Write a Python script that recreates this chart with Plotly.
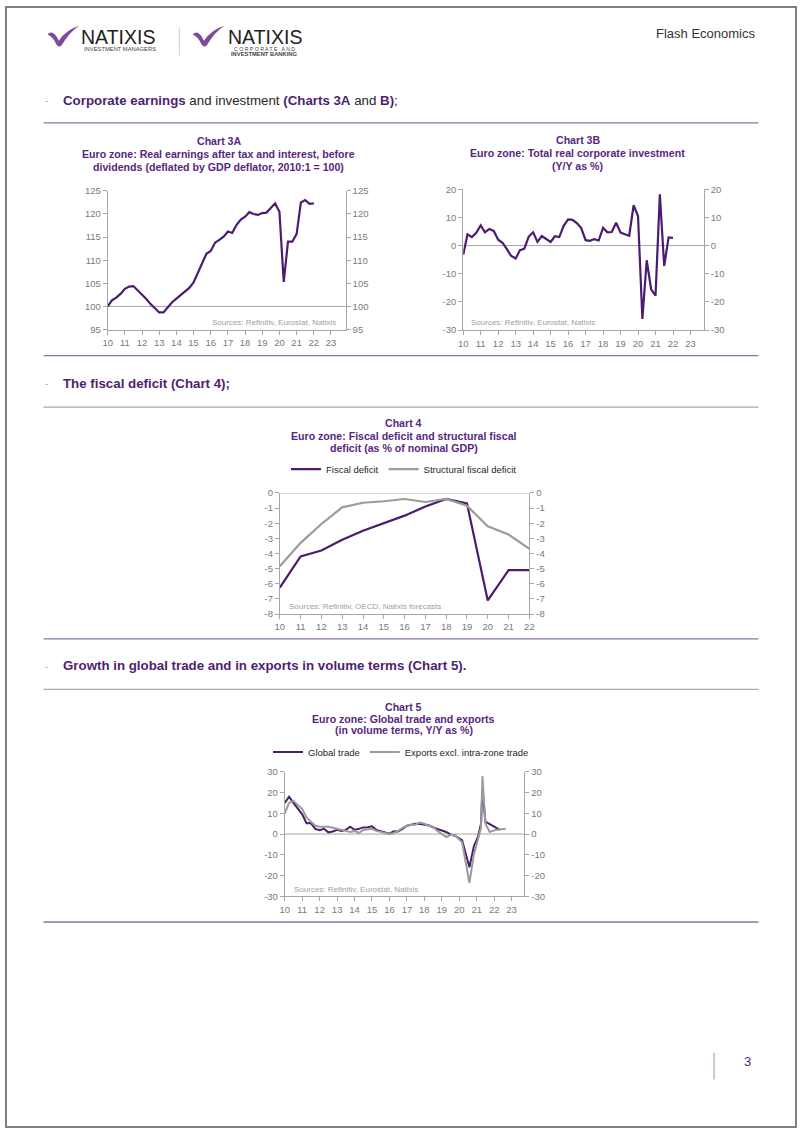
import plotly.graph_objects as go
import pandas as pd

W, H = 802, 1133


def fx(x):
    return x / W


def fy(y):
    return 1 - y / H


FONT = "Liberation Sans, Arial, Helvetica, sans-serif"
PURPLE = "#4b1c6f"
TITLE = "#57277f"
HEAD = "#4e1f72"
GRAYS = "#9b9b9b"
AXIS = "#a6a6a6"
TICKC = "#7a7a7a"
SEP_PURPLE = "#8f72a9"
SEP_GRAY = "#a9a9a9"

# ---------------- data ----------------
year_ticks = [f"{y}-01-01" for y in range(2010, 2024)]
year_labels = ["10", "11", "12", "13", "14", "15", "16", "17", "18", "19", "20", "21", "22", "23"]

# Chart 3A: real earnings, quarterly from 2010Q1 (2010:1 = 100)
earnings = [100.0, 101.3, 101.9, 102.7,
            103.8, 104.3, 104.4, 103.5,
            102.7, 101.6, 100.5, 99.5,
            98.7, 98.7, 99.8, 100.9,
            101.7, 102.4, 103.1, 104.0,
            105.2, 107.3, 109.3, 111.4,
            112.0, 113.8, 114.4, 115.1,
            116.2, 115.9, 117.6, 118.8,
            119.4, 120.4, 120.0, 119.8,
            120.2, 120.3, 121.3, 122.3,
            120.5, 105.3, 114.0, 114.0,
            115.7, 122.5, 123.0, 122.2,
            122.3]

# Chart 3B: real corporate investment, Y/Y %, quarterly from 2010Q1
investment = [-3.3, 4.0, 3.0, 4.5,
              7.2, 4.7, 5.9, 5.2,
              2.1, 1.0, -1.3, -3.7,
              -4.6, -1.6, -1.1, 3.2,
              4.7, 1.3, 3.4, 2.2,
              1.3, 3.3, 3.0, 7.0,
              9.3, 9.1, 8.0, 6.2,
              1.9, 1.7, 2.3, 1.8,
              6.3, 4.7, 4.8, 8.1,
              4.6, 4.0, 3.5, 14.3,
              10.5, -26.0, -5.2, -15.5,
              -17.8, 18.2, -7.2, 2.9,
              2.7]

# Chart 4: fiscal deficits, % of nominal GDP
fiscal_years = [str(y) for y in range(2010, 2023)]
fiscal_deficit = [-6.25, -4.2, -3.8, -3.1, -2.5, -2.0, -1.5, -0.9, -0.4, -0.7, -7.1, -5.1, -5.1]
structural_deficit = [-4.85, -3.3, -2.05, -0.95, -0.65, -0.55, -0.4, -0.6, -0.4, -0.85, -2.2, -2.75, -3.7]

# Chart 5: global trade and exports, Y/Y %
trade_dates = ["2010-01", "2010-04", "2010-07", "2010-10", "2011-01", "2011-04", "2011-07", "2011-10",
               "2012-01", "2012-04", "2012-07", "2012-10", "2013-01", "2013-04", "2013-07", "2013-10",
               "2014-01", "2014-04", "2014-07", "2014-10", "2015-01", "2015-04", "2015-07", "2015-10",
               "2016-01", "2016-04", "2016-07", "2016-10", "2017-01", "2017-04", "2017-07", "2017-10",
               "2018-01", "2018-04", "2018-07", "2018-10", "2019-01", "2019-04", "2019-07", "2019-10",
               "2020-03", "2020-08", "2020-11", "2021-02", "2021-04", "2021-05", "2021-07", "2021-11",
               "2022-05"]
global_trade = [15.0, 18.0, 15.0, 12.5, 9.5, 5.2, 5.3, 2.5,
                1.8, 2.5, 0.8, 1.2, 2.0, 1.5, 2.0, 3.5,
                2.0, 2.5, 3.2, 3.3, 3.7, 2.0, 1.3, 0.8,
                0.2, 1.3, 1.2, 2.5, 4.0, 4.5, 5.0, 4.8,
                4.5, 4.2, 3.2, 2.5, 1.5, 1.0, -0.2, -0.8,
                -3.0, -16.0, -6.0, -1.0, 5.0, 22.0, 6.0, 4.5,
                2.0]
exports_dates = ["2010-01", "2010-04", "2010-07", "2010-10", "2011-01", "2011-04", "2011-07", "2011-10",
                 "2012-01", "2012-04", "2012-07", "2012-10", "2013-01", "2013-04", "2013-07", "2013-10",
                 "2014-01", "2014-04", "2014-07", "2014-10", "2015-01", "2015-04", "2015-07", "2015-10",
                 "2016-01", "2016-04", "2016-07", "2016-10", "2017-01", "2017-04", "2017-07", "2017-10",
                 "2018-01", "2018-04", "2018-07", "2018-10", "2019-01", "2019-04", "2019-07", "2019-10",
                 "2020-03", "2020-08", "2020-11", "2021-02", "2021-04", "2021-05", "2021-07", "2021-10",
                 "2022-02", "2022-09"]
exports = [10.0, 15.0, 16.0, 14.0, 12.0, 8.0, 6.0, 4.0,
           3.5, 3.5, 3.5, 3.0, 2.5, 2.0, 1.5, 1.0,
           1.5, 0.5, 2.0, 2.2, 2.5, 1.5, 1.0, 0.5,
           0.0, 0.5, 1.5, 3.0, 4.0, 4.5, 4.5, 5.5,
           5.0, 4.0, 3.5, 1.5, 0.0, -1.5, -0.5, -0.5,
           -4.0, -23.5, -10.0, -2.0, 3.0, 28.0, 5.0, 1.0,
           2.0, 2.5]

ticks_3a = [95, 100, 105, 110, 115, 120, 125]
ticks_3b = [-30, -20, -10, 0, 10, 20]
ticks_4 = [-8, -7, -6, -5, -4, -3, -2, -1, 0]
ticks_5 = [-30, -20, -10, 0, 10, 20, 30]


def lab(vals):
    return [str(v) for v in vals]


q_dates = pd.date_range("2010-01-01", periods=len(earnings), freq="QS")
q_dates_b = pd.date_range("2010-01-01", periods=len(investment), freq="QS")

# ---------------- figure ----------------
fig = go.Figure()


def line_trace(x, y, xa, ya, color, width=2.2, name=None, legend=None, show=False):
    kw = dict(x=x, y=y, xaxis=xa, yaxis=ya, mode="lines",
              line=dict(color=color, width=width), hoverinfo="skip", showlegend=show)
    if name:
        kw["name"] = name
    if legend:
        kw["legend"] = legend
    return go.Scatter(**kw)


GHOST = "rgba(0,0,0,0)"

# Chart 3A
fig.add_trace(line_trace(q_dates, earnings, "x", "y", PURPLE))
fig.add_trace(line_trace(q_dates, earnings, "x", "y2", GHOST))
# Chart 3B
fig.add_trace(line_trace(q_dates_b, investment, "x2", "y3", PURPLE))
fig.add_trace(line_trace(q_dates_b, investment, "x2", "y4", GHOST))
# Chart 4
fig.add_trace(line_trace(fiscal_years, fiscal_deficit, "x3", "y5", PURPLE, 2.2,
                         "Fiscal deficit", "legend", True))
fig.add_trace(line_trace(fiscal_years, structural_deficit, "x3", "y5", GRAYS, 2.2,
                         "Structural fiscal deficit", "legend", True))
fig.add_trace(line_trace(fiscal_years, fiscal_deficit, "x3", "y6", GHOST))
# Chart 5
fig.add_trace(line_trace(trade_dates, global_trade, "x4", "y7", PURPLE, 2.0,
                         "Global trade", "legend2", True))
fig.add_trace(line_trace(exports_dates, exports, "x4", "y7", GRAYS, 2.0,
                         "Exports excl. intra-zone trade", "legend2", True))
fig.add_trace(line_trace(trade_dates, global_trade, "x4", "y8", GHOST))


def xax(x0, x1, anchor, end, ntick=14):
    return dict(domain=[fx(x0), fx(x1)], anchor=anchor, type="date",
                range=["2010-01-01", end],
                tickmode="array", tickvals=year_ticks[:ntick], ticktext=year_labels[:ntick],
                showline=True, linecolor=AXIS, linewidth=1,
                ticks="outside", ticklen=4, tickcolor=AXIS, tickwidth=1,
                tickfont=dict(size=9.5, color=TICKC, family=FONT),
                showgrid=False, zeroline=False, fixedrange=True)


def yax(anchor, rng, vals, y0=None, y1=None, overlay=None):
    d = dict(anchor=anchor, range=rng, tickmode="array", tickvals=vals, ticktext=lab(vals),
             showline=True, linecolor=AXIS, linewidth=1,
             ticks="outside", ticklen=4, tickcolor=AXIS, tickwidth=1,
             tickfont=dict(size=9.5, color=TICKC, family=FONT),
             showgrid=False, zeroline=False, fixedrange=True)
    if overlay:
        d["overlaying"] = overlay
        d["side"] = "right"
    else:
        d["domain"] = [fy(y0), fy(y1)]
        d["side"] = "left"
    return d


layout = dict(
    width=W, height=H, autosize=False,
    margin=dict(l=0, r=0, t=0, b=0),
    paper_bgcolor="white", plot_bgcolor="white",
    font=dict(family=FONT, color="#262626"),
    xaxis=xax(104, 345, "y", "2023-11-10"),
    yaxis=yax("x", [95, 125], ticks_3a, 326.7, 186.7),
    yaxis2=yax("x", [95, 125], ticks_3a, overlay="y"),
    xaxis2=xax(464, 707.7, "y3", "2023-10-08"),
    yaxis3=yax("x2", [-30, 20], ticks_3b, 327.3, 185),
    yaxis4=yax("x2", [-30, 20], ticks_3b, overlay="y3"),
    xaxis3=xax(278.3, 531, "y5", "2022-01-01", 13),
    yaxis5=yax("x3", [-8, 0], ticks_4, 614, 491.7),
    yaxis6=yax("x3", [-8, 0], ticks_4, overlay="y5"),
    xaxis4=xax(283.3, 526, "y7", "2023-09-27"),
    yaxis7=yax("x4", [-30, 30], ticks_5, 899, 773.3),
    yaxis8=yax("x4", [-30, 30], ticks_5, overlay="y7"),
    legend=dict(orientation="h", x=fx(404), xanchor="center", y=fy(467.7), yanchor="middle",
                font=dict(size=9.5, color="#262626", family=FONT), bgcolor="rgba(0,0,0,0)",
                itemwidth=30, tracegroupgap=0),
    legend2=dict(orientation="h", x=fx(401), xanchor="center", y=fy(753.3), yanchor="middle",
                 font=dict(size=9.5, color="#262626", family=FONT), bgcolor="rgba(0,0,0,0)",
                 itemwidth=30, tracegroupgap=0),
)
fig.update_layout(**layout)

shapes = []
# page border
shapes.append(dict(type="rect", xref="paper", yref="paper", x0=fx(1), x1=fx(801), y0=fy(1), y1=fy(1132),
                   line=dict(color="#7f7f7f", width=2), fillcolor="rgba(0,0,0,0)", layer="above"))
# separators
for yy, col in [(118, SEP_PURPLE), (353, SEP_PURPLE), (405, SEP_GRAY), (639, SEP_PURPLE),
                (690, SEP_GRAY), (925, SEP_PURPLE)]:
    shapes.append(dict(type="line", xref="paper", yref="paper", x0=fx(39), x1=fx(763), y0=fy(yy), y1=fy(yy),
                       line=dict(color=col, width=1.3)))
# reference lines in charts
for xa, ya, v in [("x", "y", 100), ("x2", "y3", 0), ("x4", "y7", 0), ("x3", "y5", 0)]:
    shapes.append(dict(type="line", xref=f"{xa} domain", yref=ya, x0=0, x1=1, y0=v, y1=v,
                       line=dict(color=AXIS, width=1), layer="below"))
# header logo separator and page number bar
shapes.append(dict(type="line", xref="paper", yref="paper", x0=fx(176.5), x1=fx(176.5), y0=fy(22), y1=fy(50),
                   line=dict(color="#cfcfcf", width=1)))
shapes.append(dict(type="line", xref="paper", yref="paper", x0=fx(718), x1=fx(718), y0=fy(1057), y1=fy(1084),
                   line=dict(color="#a58bbd", width=1)))


def swoosh(ox, oy, s=1.0):
    pts = [("M", [(0, 9)]), ("Q", [(5, 4), (10, 12)]), ("L", [(12, 16)]),
           ("Q", [(20, 4), (34, 0)]), ("Q", [(24, 6), (15, 21)]), ("Q", [(12, 24), (9, 19)]),
           ("Q", [(6, 12), (0, 9)])]
    out = []
    for c, ps in pts:
        coords = " ".join(f"{fx(ox + px * s):.5f},{fy(oy + py * s):.5f}" for px, py in ps)
        out.append(f"{c} {coords}")
    return " ".join(out) + " Z"


for ox in (43, 190):
    shapes.append(dict(type="path", xref="paper", yref="paper", path=swoosh(ox, 20, 0.95),
                       fillcolor="#7b4b9c", line=dict(width=0)))

fig.update_layout(shapes=shapes)

ann = []


def text(x, y, t, size, color="#262626", xanchor="left", bold=False):
    if bold:
        t = f"<b>{t}</b>"
    ann.append(dict(x=fx(x), y=fy(y), xref="paper", yref="paper", text=t, showarrow=False,
                    xanchor=xanchor, yanchor="middle", font=dict(size=size, color=color, family=FONT)))


# header
text(75, 31, "NATIXIS", 19.5, "#222222")
text(116, 43.5, "INVESTMENT MANAGERS", 5.8, "#444444", "center")
text(224, 31, "NATIXIS", 19.5, "#222222")
text(263, 43, "C O R P O R A T E   A N D", 5.2, "#444444", "center")
text(263, 48.5, "INVESTMENT BANKING", 5.8, "#444444", "center", True)
text(762, 28, "Flash Economics", 13, "#333333", "right")

# section headings
for yy in (95, 381, 666):
    text(38, yy, "-", 11, "#b0b0b0")
text(57, 95, f"<b><span style='color:{HEAD}'>Corporate earnings</span></b> and investment "
             f"<b><span style='color:{HEAD}'>(Charts 3A</span></b> and "
             f"<b><span style='color:{HEAD}'>B)</span></b>;", 13.3)
text(57, 381, "The fiscal deficit (Chart 4);", 13.3, HEAD, bold=True)
text(57, 666, "Growth in global trade and in exports in volume terms (Chart 5).", 13.3, HEAD, bold=True)

# chart titles
for cx, lines, ys in [
    (216.5, ["Chart 3A", "Euro zone: Real earnings after tax and interest, before",
             "dividends (deflated by GDP deflator, 2010:1 = 100)"], (136, 149.5, 162.5)),
    (580, ["Chart 3B", "Euro zone: Total real corporate investment", "(Y/Y as %)"], (135, 148.3, 161.5)),
    (404, ["Chart 4", "Euro zone: Fiscal deficit and structural fiscal", "deficit (as % of nominal GDP)"],
     (421, 434, 446)),
    (404, ["Chart 5", "Euro zone: Global trade and exports", "(in volume terms, Y/Y as %)"],
     (707.5, 720, 731.5)),
]:
    for t, yy in zip(lines, ys):
        text(cx, yy, t, 10.6, TITLE, "center", True)

# sources
text(337, 320, "Sources: Refinitiv, Eurostat, Natixis", 8, "#a0a0a0", "right")
text(470, 320, "Sources: Refinitiv, Eurostat, Natixis", 8, "#a0a0a0")
text(286, 606, "Sources: Refinitiv, OECD, Natixis forecasts", 8, "#a0a0a0")
text(291, 892, "Sources: Refinitiv, Eurostat, Natixis", 8, "#a0a0a0")

# page number
text(752, 1066, "3", 13, "#5a2a84", "center")

fig.update_layout(annotations=ann)

fig.write_html("out.html", config={"displayModeBar": False, "responsive": False},
               post_script="document.body.style.margin='0';document.body.style.padding='0';"
                           "document.body.style.overflow='hidden';"
                           "document.documentElement.style.overflow='hidden';")
